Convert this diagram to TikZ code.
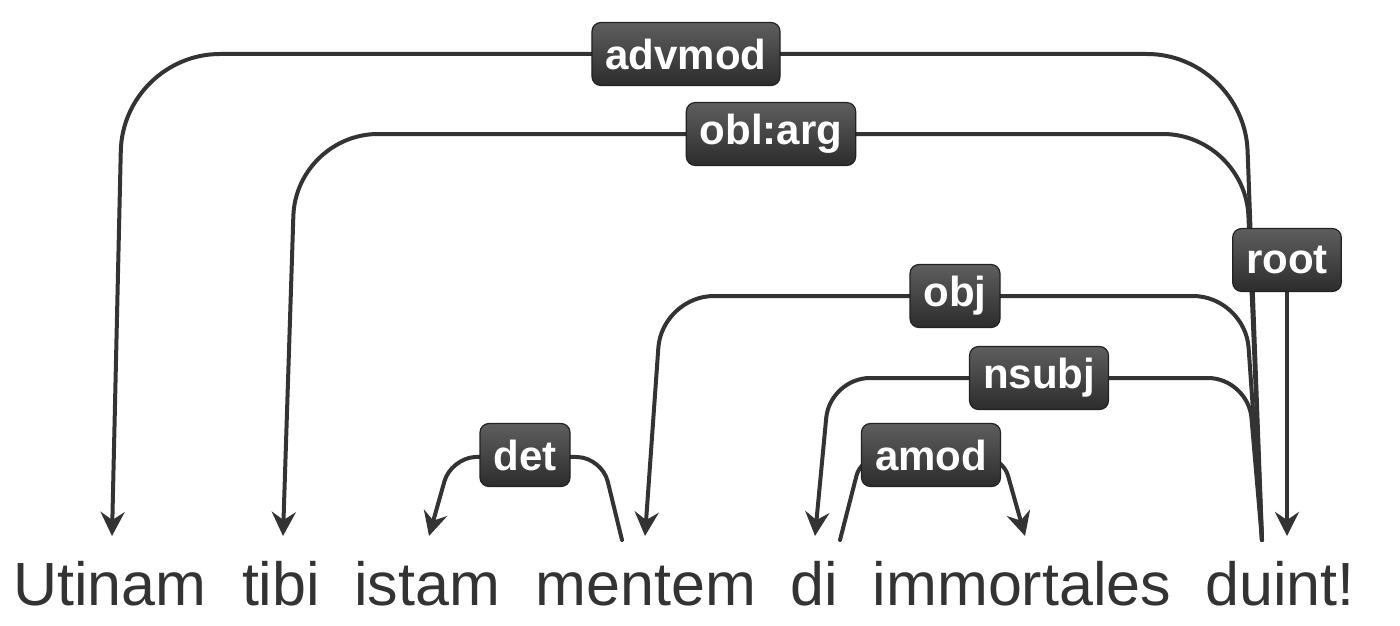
\documentclass[tikz,border=0pt]{standalone}
\usepackage{fontspec}
\setmainfont{Liberation Sans}
\usetikzlibrary{arrows.meta,backgrounds}
\definecolor{ink}{HTML}{333333}
\definecolor{lblTop}{HTML}{5E5E5E}
\definecolor{lblBot}{HTML}{2C2C2C}
\definecolor{lblBorder}{HTML}{222222}
\tikzset{
  word/.style={anchor=base, inner sep=0pt, text=ink, font=\fontsize{61}{61}\selectfont},
  deplabel/.style={rounded corners=9pt, top color=lblTop, bottom color=lblBot, draw=lblBorder,
    line width=1.2pt, text=white, font=\fontsize{42}{42}\selectfont\bfseries,
    inner xsep=13.5pt, inner ysep=0pt, minimum height=63pt, anchor=center},
  arc/.style={draw=ink, line width=4pt, line cap=round},
  tip/.style={-{Stealth[length=24pt,width=24pt,inset=8pt]}}
}
\begin{document}
\begin{tikzpicture}[x=1pt,y=-1pt]
\useasboundingbox (0,0) rectangle (1400,626);
% words
\node[word] (w1) at (110,605) {Utinam};
\node[word] (w2) at (281,605) {tibi};
\node[word] (w3) at (427,605) {istam};
\node[word] (w4) at (646,605) {mentem};
\node[word] (w5) at (814,605) {di};
\node[word] (w6) at (1022,605) {immortales};
\node[word] (w7) at (1280,605) {duint!};
% attachment points
\coordinate (out7) at (1262,540);
\coordinate (out4) at (622,540);
\coordinate (out5) at (840,540);
\coordinate (in1) at (112,536);
\coordinate (in2) at (283,536);
\coordinate (in3) at (429,536);
\coordinate (in4) at (645,536);
\coordinate (in5) at (815,536);
\coordinate (in6) at (1025,536);
\coordinate (in7) at (1287,536);
% labels
\node[deplabel] (advmod) at (686,54) {advmod};
\node[deplabel] (oblarg) at (771,134) {obl:arg};
\node[deplabel] (root) at (1287,260) {root};
\node[deplabel] (obj) at (955,296) {obj};
\node[deplabel] (nsubj) at (1039,378) {nsubj};
\node[deplabel] (det) at (525,455) {det};
\node[deplabel] (amod) at (931,455) {amod};
% arcs
\begin{scope}[on background layer]
\draw[arc,tip,rounded corners=97pt] (out7) -- (1244,54) -- (advmod.center) -- (123,54) -- (in1);
\draw[arc,tip,rounded corners=82pt] (out7) -- (1245,134) -- (oblarg.center) -- (296,134) -- (in2);
\draw[arc,tip] (root.south) -- (in7);
\draw[arc,tip,rounded corners=52pt] (out7) -- (1245,296) -- (obj.center) -- (662,296) -- (in4);
\draw[arc,tip,rounded corners=40pt] (out7) -- (1248,378) -- (nsubj.center) -- (830,378) -- (in5);
\draw[arc,tip,rounded corners=24pt] (out4) -- (602,458) -- (det.center) -- (451,458) -- (in3);
\draw[arc,tip,rounded corners=18pt] (out5) -- (861,458) -- (amod.center) -- (1003,458) -- (in6);
\end{scope}
\end{tikzpicture}
\end{document}
